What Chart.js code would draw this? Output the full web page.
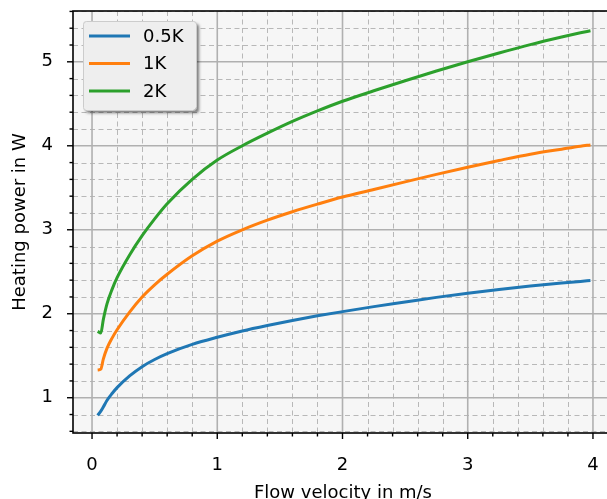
<!DOCTYPE html>
<html>
<head>
<meta charset="utf-8">
<script src="https://cdn.jsdelivr.net/npm/chart.js"></script>
<style>
    html, body { margin: 0; padding: 0; background: #ffffff; overflow: hidden; }
    #wrap { width: 607px; height: 499px; overflow: hidden; position: relative; }
    #wrap canvas { position: absolute; left: 0; top: 0; }
</style>
</head>
<body>
<div id="wrap"><canvas id="chart" width="620" height="512"></canvas></div>
<script>
// data
const velocity = [0.045, 0.07, 0.09, 0.12, 0.16, 0.2, 0.3, 0.4, 0.5, 0.6, 0.8, 1.0, 1.2, 1.4, 1.6, 1.8, 2.0, 2.25, 2.5, 2.75, 3.0, 3.25, 3.5, 3.75, 3.9, 3.98];
const power05K = [0.79, 0.84, 0.89, 0.97, 1.05, 1.12, 1.26, 1.37, 1.455, 1.525, 1.635, 1.72, 1.795, 1.86, 1.92, 1.975, 2.025, 2.085, 2.14, 2.195, 2.245, 2.29, 2.33, 2.365, 2.385, 2.395];
const power1K = [1.33, 1.34, 1.46, 1.59, 1.71, 1.81, 2.02, 2.20, 2.345, 2.47, 2.69, 2.865, 3.0, 3.115, 3.215, 3.305, 3.39, 3.48, 3.57, 3.66, 3.745, 3.825, 3.90, 3.96, 3.995, 4.01];
const power2K = [1.79, 1.77, 1.93, 2.12, 2.29, 2.43, 2.70, 2.93, 3.13, 3.31, 3.60, 3.83, 4.00, 4.15, 4.29, 4.415, 4.53, 4.655, 4.775, 4.89, 5.0, 5.105, 5.205, 5.295, 5.345, 5.37];
const seriesLabels = ['0.5K', '1K', '2K'];

const xMajorTicks = [0, 1, 2, 3, 4];
const yMajorTicks = [1, 2, 3, 4, 5];
const minorStep = 0.2;

const COLORS = ['#1f77b4', '#ff7f0e', '#2ca02c'];
const FONT = 'DejaVu Sans';
const FONT_SIZE = 18;

function toPoints(ys) {
    return velocity.map((v, i) => ({ x: v, y: ys[i] }));
}

// minor tick values between min and max (integers are majors)
function minorValues(min, max) {
    const out = [];
    for (let k = Math.ceil(min / minorStep); k * minorStep <= max; k++) {
        const v = Math.round(k * minorStep * 10) / 10;
        if (Math.abs(v - Math.round(v)) > 1e-6) out.push(v);
    }
    return out;
}

const mplStyle = {
    id: 'mplStyle',
    beforeDraw(chart) {
        const { ctx, chartArea: a } = chart;
        ctx.save();
        ctx.fillStyle = '#f6f6f6';
        ctx.fillRect(a.left, a.top, a.right - a.left, a.bottom - a.top);
        ctx.restore();
    },
    beforeDatasetsDraw(chart) {
        const { ctx, chartArea: a, scales: { x, y } } = chart;
        ctx.save();
        // minor grid, dashed
        ctx.strokeStyle = '#b8b8b8';
        ctx.lineWidth = 1;
        ctx.setLineDash([5, 3.5]);
        minorValues(x.min, x.max).forEach(v => {
            const px = Math.round(x.getPixelForValue(v)) + 0.5;
            ctx.beginPath(); ctx.moveTo(px, a.top); ctx.lineTo(px, a.bottom); ctx.stroke();
        });
        minorValues(y.min, y.max).forEach(v => {
            const py = Math.round(y.getPixelForValue(v)) + 0.5;
            ctx.beginPath(); ctx.moveTo(a.left, py); ctx.lineTo(a.right, py); ctx.stroke();
        });
        // major grid, solid
        ctx.setLineDash([]);
        ctx.strokeStyle = '#b0b0b0';
        ctx.lineWidth = 1.6;
        xMajorTicks.forEach(v => {
            const px = x.getPixelForValue(v);
            ctx.beginPath(); ctx.moveTo(px, a.top); ctx.lineTo(px, a.bottom); ctx.stroke();
        });
        yMajorTicks.forEach(v => {
            const py = y.getPixelForValue(v);
            ctx.beginPath(); ctx.moveTo(a.left, py); ctx.lineTo(a.right, py); ctx.stroke();
        });
        ctx.restore();
    },
    afterDatasetsDraw(chart) {
        const { ctx, chartArea: a, scales: { x, y } } = chart;
        ctx.save();
        // ticks, outside
        ctx.strokeStyle = '#000000';
        ctx.lineWidth = 1.4;
        const tick = (x0, y0, x1, y1) => { ctx.beginPath(); ctx.moveTo(x0, y0); ctx.lineTo(x1, y1); ctx.stroke(); };
        xMajorTicks.forEach(v => { const px = x.getPixelForValue(v); tick(px, a.bottom, px, a.bottom + 6); });
        minorValues(x.min, x.max).forEach(v => { const px = x.getPixelForValue(v); tick(px, a.bottom, px, a.bottom + 3.5); });
        yMajorTicks.forEach(v => { const py = y.getPixelForValue(v); tick(a.left, py, a.left - 6, py); });
        minorValues(y.min, y.max).forEach(v => { const py = y.getPixelForValue(v); tick(a.left - 3.5, py, a.left, py); });
        // spines
        ctx.lineWidth = 1.6;
        ctx.strokeRect(a.left, a.top, a.right - a.left, a.bottom - a.top);

        // legend box, upper left with shadow
        const bx = 83, by = 21, bw = 113, bh = 89;
        ctx.save();
        ctx.shadowColor = 'rgba(0,0,0,0.5)';
        ctx.shadowBlur = 3;
        ctx.shadowOffsetX = 3;
        ctx.shadowOffsetY = 3;
        ctx.fillStyle = '#eeeeee';
        ctx.beginPath();
        ctx.roundRect(bx, by, bw, bh, 3);
        ctx.fill();
        ctx.restore();
        ctx.strokeStyle = '#cccccc';
        ctx.lineWidth = 1;
        ctx.beginPath();
        ctx.roundRect(bx + 0.5, by + 0.5, bw, bh, 3);
        ctx.stroke();

        ctx.font = FONT_SIZE + 'px "' + FONT + '"';
        ctx.textBaseline = 'middle';
        ctx.textAlign = 'left';
        chart.data.datasets.forEach((ds, i) => {
            const ly = 36 + i * 27.5;
            ctx.strokeStyle = ds.borderColor;
            ctx.lineWidth = 3;
            tick(89, ly, 130, ly);
            ctx.fillStyle = '#000000';
            ctx.fillText(ds.label, 143, ly + 1);
        });
        ctx.restore();
    }
};

const tickFont = { family: FONT, size: FONT_SIZE };

new Chart(document.getElementById('chart'), {
    type: 'line',
    data: {
        datasets: [power05K, power1K, power2K].map((ys, i) => ({
            label: seriesLabels[i],
            data: toPoints(ys),
            borderColor: COLORS[i],
            backgroundColor: COLORS[i],
            borderWidth: 3,
            pointRadius: 0,
            cubicInterpolationMode: 'monotone',
            fill: false
        }))
    },
    options: {
        responsive: false,
        animation: false,
        events: [],
        layout: { padding: { left: 0, top: 11, right: 7, bottom: 0 } },
        plugins: {
            legend: { display: false },
            tooltip: { enabled: false }
        },
        scales: {
            x: {
                type: 'linear',
                min: -0.152,
                max: 4.16,
                afterBuildTicks: s => { s.ticks = xMajorTicks.map(v => ({ value: v })); },
                afterFit: s => { s.height = 512 - 433; s.paddingLeft = 0; s.paddingRight = 0; },
                grid: { display: false },
                border: { display: false },
                ticks: {
                    color: '#000000',
                    font: tickFont,
                    padding: 14,
                    maxRotation: 0,
                    callback: v => String(v)
                },
                title: {
                    display: true,
                    text: 'Flow velocity in m/s',
                    color: '#000000',
                    font: tickFont,
                    padding: { top: 0, bottom: 8 }
                }
            },
            y: {
                type: 'linear',
                min: 0.58,
                max: 5.605,
                afterBuildTicks: s => { s.ticks = yMajorTicks.map(v => ({ value: v })); },
                afterFit: s => { s.width = 73; s.paddingTop = 0; s.paddingBottom = 0; },
                grid: { display: false },
                border: { display: false },
                ticks: {
                    color: '#000000',
                    font: tickFont,
                    padding: 12,
                    callback: v => String(v)
                },
                title: {
                    display: true,
                    text: 'Heating power in W',
                    color: '#000000',
                    font: tickFont,
                    padding: { top: 10, bottom: 0 }
                }
            }
        }
    },
    plugins: [mplStyle]
});
</script>
</body>
</html>
